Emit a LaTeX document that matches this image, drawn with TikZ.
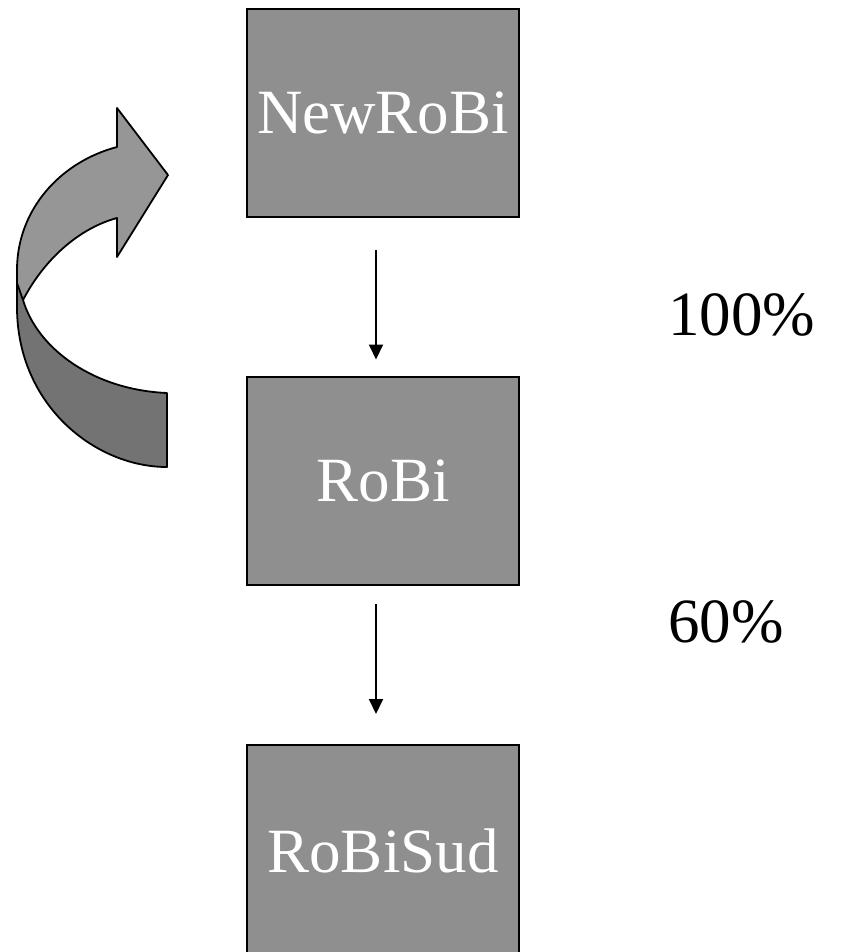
\documentclass[tikz,border=0pt]{standalone}
\usepackage{fontspec}
\setmainfont{Liberation Serif}
\usetikzlibrary{arrows.meta}
\definecolor{boxgray}{RGB}{143,143,143}
\definecolor{bandlight}{RGB}{150,150,150}
\definecolor{banddark}{RGB}{115,115,115}
\tikzset{
  box/.style = {rectangle,draw=black,fill=boxgray,line width=2,minimum width=272,minimum height=208,inner sep=0pt,text=white,font=\fontsize{63}{70}\selectfont},
  edge/.style = {-{Triangle[length=15,width=14]},line width=2,black},
  pct/.style = {anchor=west,inner sep=0pt,font=\fontsize{63}{70}\selectfont},
  band/.style = {draw=black,line width=1.8,line join=round},
}

\begin{document}
\begin{tikzpicture}[x=1pt,y=-1pt]
    \useasboundingbox (0,0) rectangle (851,952);
    \clip (0,0) rectangle (851,952);

    \node[box] at (383,113) (newrobi) {NewRoBi};
    \node[box] at (383,480.5) (robi) {RoBi};
    \node[box,minimum height=212] at (383,851) (robisud) {RoBiSud};

    \node[pct] at (668,315) (p100) {100\%};
    \node[pct] at (668,622) (p60) {60\%};

    \draw[edge, shorten <=32, shorten >=16] ([xshift=-7]newrobi.south) -- ([xshift=-7]robi.north);
    \draw[edge, shorten <=18, shorten >=30] ([xshift=-7]robi.south) -- ([xshift=-7]robisud.north);

    % curved arrow, light front side
    \draw[band, fill=bandlight] (117,147) .. controls (60,162) and (17,210) .. (17,270)
        -- (17,292) -- (23,300) .. controls (45,258) and (80,228) .. (117,218)
        -- (117,257) -- (168,175) -- (117,108) -- cycle;
    % dark back side
    \draw[band, fill=banddark] (17,283) -- (17,307) .. controls (17,405) and (95,467) .. (167,467)
        -- (167,393) .. controls (95,390) and (38,350) .. (23,300) -- cycle;

\end{tikzpicture}
\end{document}
